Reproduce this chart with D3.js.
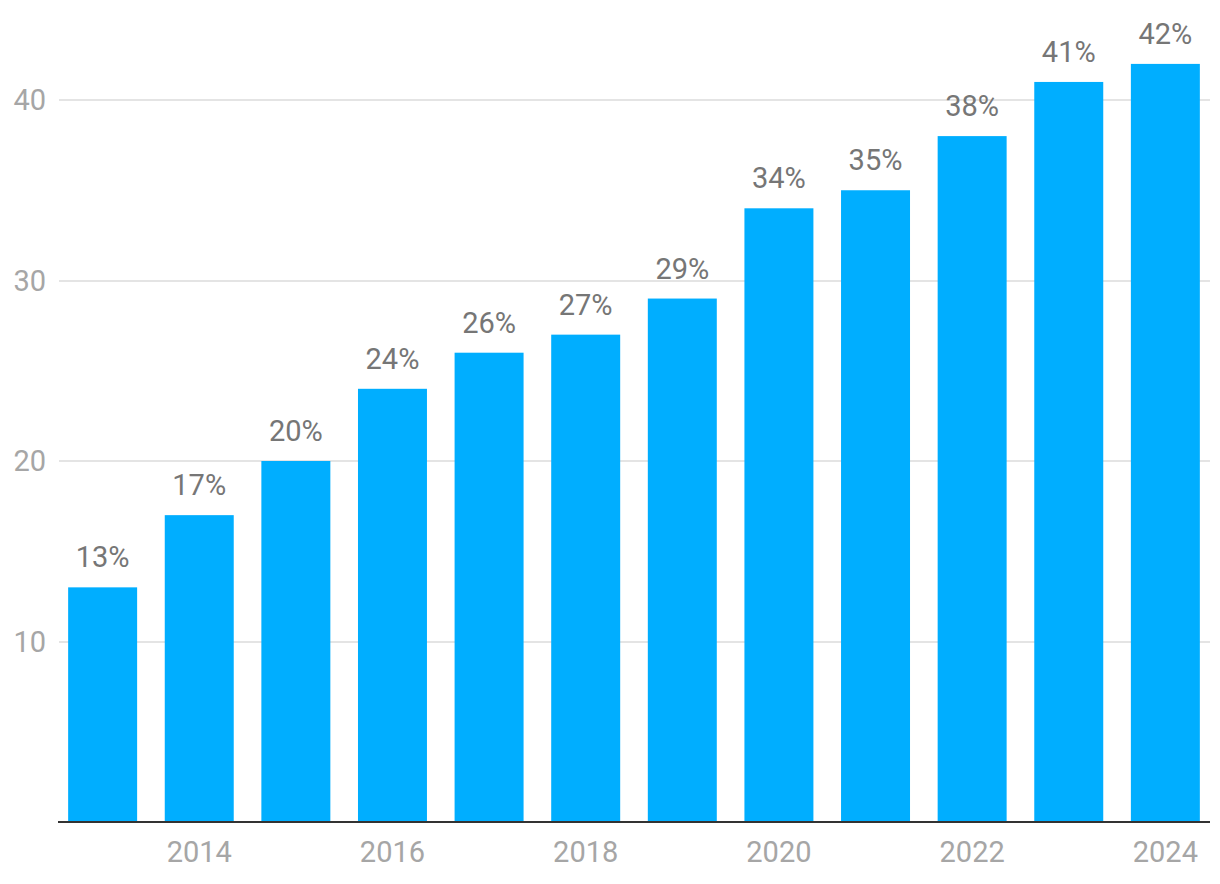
<!DOCTYPE html>
<html>
<head>
<meta charset="utf-8">
<script src="https://d3js.org/d3.v7.min.js"></script>
<style>
body { margin: 0; background: #fff; }
svg { display: block; }
.grid line { stroke: #e4e4e4; stroke-width: 1.5; shape-rendering: crispEdges; }
.lbl { font-family: Roboto, "Liberation Sans", sans-serif; font-size: 29px; }
.axis-lbl { fill: #a6a6a6; }
.val-lbl { fill: #767676; }
</style>
</head>
<body>
<div id="chart"></div>
<script>
var years = [2013, 2014, 2015, 2016, 2017, 2018, 2019, 2020, 2021, 2022, 2023, 2024];
var shares = [13, 17, 20, 24, 26, 27, 29, 34, 35, 38, 41, 42];
var yTicks = [10, 20, 30, 40];
var xTickYears = [2014, 2016, 2018, 2020, 2022, 2024];

var width = 1220, height = 884,
    left = 58, right = 1210,
    baseY = 822, topY = 100;

var svg = d3.select("#chart").append("svg")
    .attr("width", width)
    .attr("height", height);

var x = d3.scaleBand()
    .domain(years)
    .range([left, right])
    .paddingInner(0.286)
    .paddingOuter(0.105);

var y = d3.scaleLinear()
    .domain([0, 40])
    .range([baseY, topY]);

// gridlines
svg.append("g").attr("class", "grid")
    .selectAll("line").data(yTicks).enter().append("line")
    .attr("x1", left + 1)
    .attr("x2", right)
    .attr("y1", function(d) { return Math.round(y(d)); })
    .attr("y2", function(d) { return Math.round(y(d)); });

// y labels
svg.append("g").selectAll("text").data(yTicks).enter().append("text")
    .attr("class", "lbl axis-lbl")
    .attr("x", 46)
    .attr("y", function(d) { return y(d); })
    .attr("dy", "0.36em")
    .attr("text-anchor", "end")
    .text(function(d) { return d; });

// bars
svg.append("g").selectAll("rect").data(years).enter().append("rect")
    .attr("x", function(d) { return x(d); })
    .attr("width", x.bandwidth())
    .attr("y", function(d, i) { return y(shares[i]); })
    .attr("height", function(d, i) { return baseY - y(shares[i]); })
    .attr("fill", "#00aeff");

// value labels
svg.append("g").selectAll("text").data(years).enter().append("text")
    .attr("class", "lbl val-lbl")
    .attr("x", function(d) { return x(d) + x.bandwidth() / 2; })
    .attr("y", function(d, i) { return y(shares[i]) - 20; })
    .attr("text-anchor", "middle")
    .text(function(d, i) { return shares[i] + "%"; });

// baseline
svg.append("line")
    .attr("x1", left).attr("x2", right)
    .attr("y1", baseY).attr("y2", baseY)
    .attr("stroke", "#333")
    .attr("stroke-width", 2);

// x labels
svg.append("g").selectAll("text").data(xTickYears).enter().append("text")
    .attr("class", "lbl axis-lbl")
    .attr("x", function(d) { return x(d) + x.bandwidth() / 2; })
    .attr("y", 862)
    .attr("text-anchor", "middle")
    .text(function(d) { return d; });
</script>
</body>
</html>
